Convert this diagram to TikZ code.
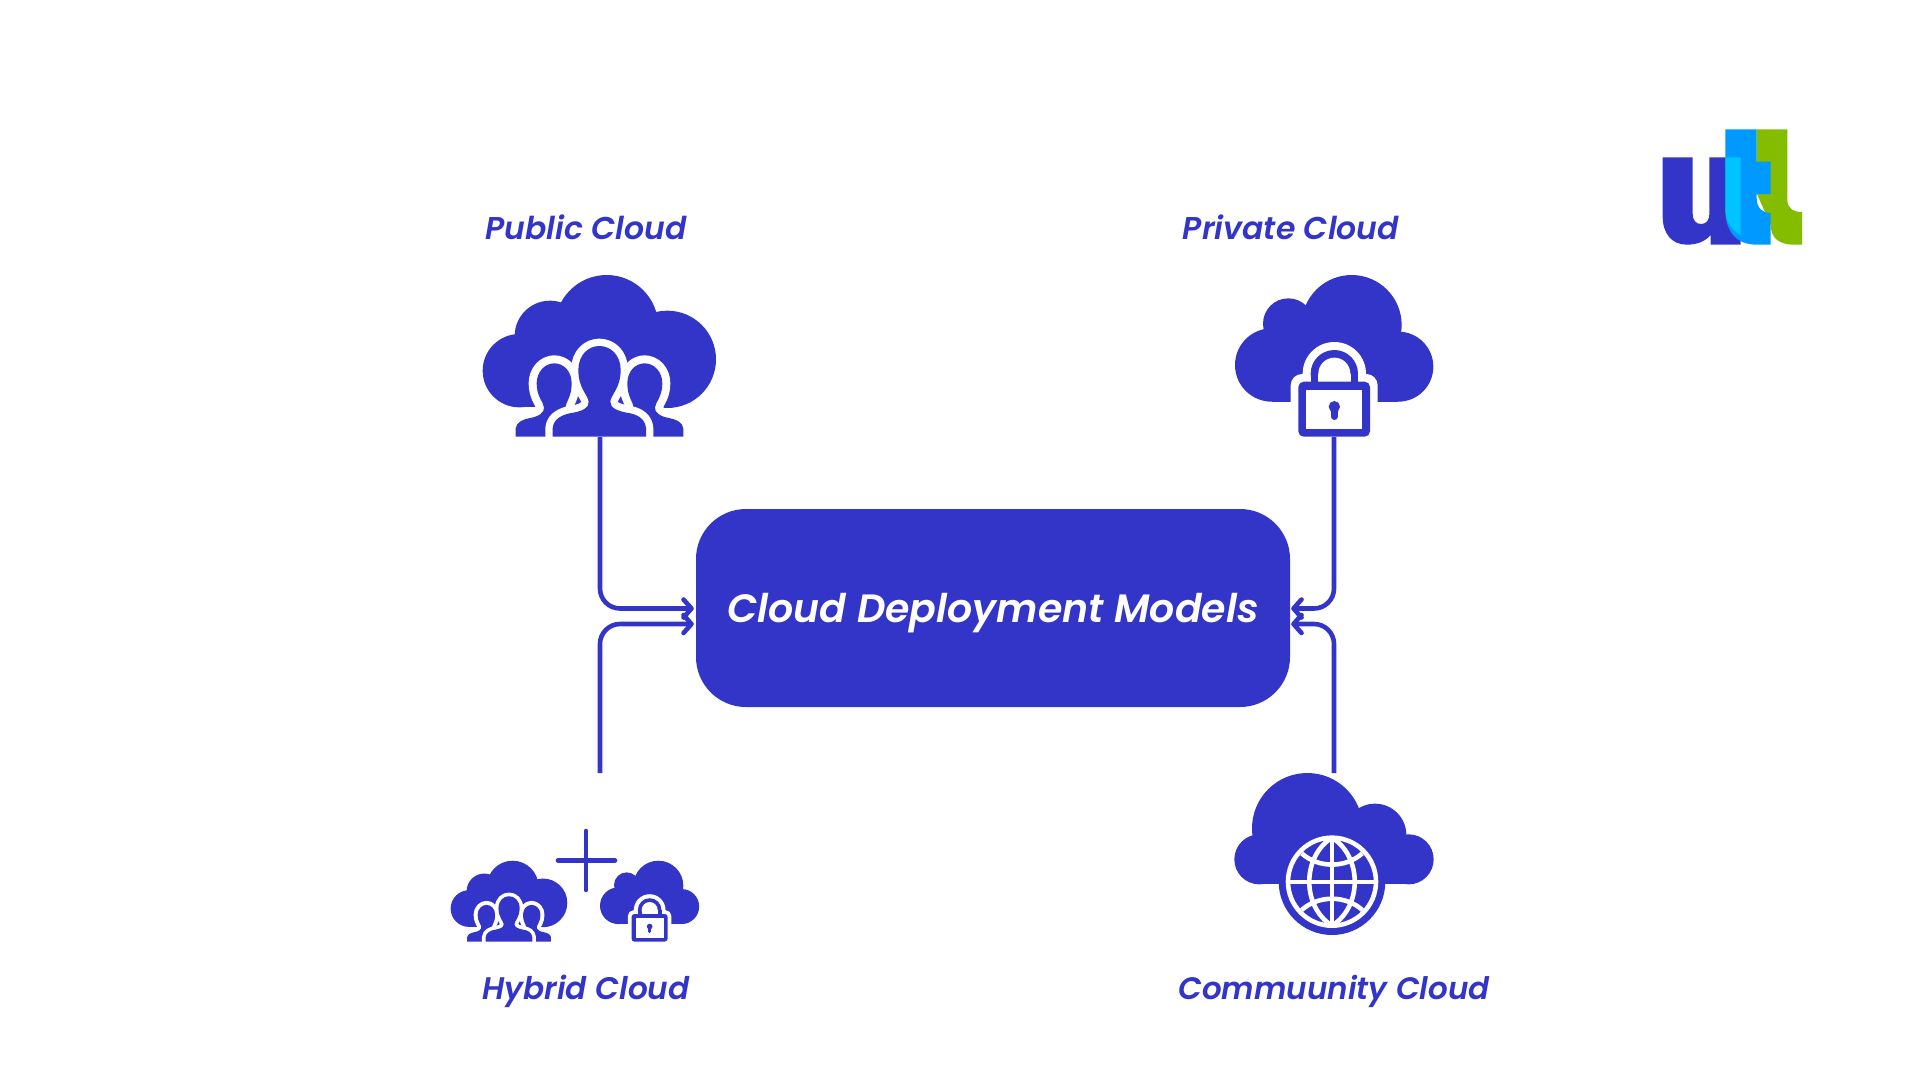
\documentclass[tikz,border=0pt]{standalone}
\usepackage{fontspec}
\setmainfont{Poppins}[BoldFont={Poppins SemiBold},BoldItalicFont={Poppins SemiBold Italic}]
\usetikzlibrary{arrows.meta}
\definecolor{brand}{HTML}{3335C9}
\definecolor{logoblue}{HTML}{0099FF}
\definecolor{logocyan}{HTML}{00C4FF}
\definecolor{logogreen}{HTML}{84BC00}
\tikzset{
  caption/.style={text=brand,font=\fontsize{#1}{#1}\selectfont\bfseries\itshape,inner sep=0pt,anchor=center},
  conn/.style={draw=brand,line width=4.6pt,rounded corners=20pt,-{Straight Barb[length=8pt,width=18pt,line cap=round,round]}},
}
\newcommand\cloudpeople[3]{%
\begin{scope}[shift={(#1,#2)},x=#3pt,y=-#3pt]
  \fill[brand] (178,332) circle[radius=110];
  \fill[brand] (270,228) circle[radius=106];
  \fill[brand] (440,200) circle[radius=155];
  \fill[brand] (622,298) circle[radius=146];
  \fill[brand] (178,250) rectangle (622,442);
  \begin{scope}
    \def\sidep{(167,530) -- (167,505) .. controls (170,485) and (190,478) .. (210,474) .. controls (235,470) and (254,458) .. (252,442) .. controls (250,425) and (230,410) .. (230,370) .. controls (230,335) and (255,310) .. (283,310) .. controls (312,310) and (335,335) .. (335,370) .. controls (335,410) and (318,425) .. (316,442) -- (340,470) -- (340,530) -- cycle}
    \def\sideq{(670,530) -- (670,505) .. controls (667,485) and (647,478) .. (627,474) .. controls (602,470) and (583,458) .. (585,442) .. controls (587,425) and (607,410) .. (607,370) .. controls (607,335) and (582,310) .. (554,310) .. controls (525,310) and (502,335) .. (502,370) .. controls (502,410) and (519,425) .. (521,442) -- (497,470) -- (497,530) -- cycle}
    \def\midp{(278,530) -- (278,505) .. controls (280,475) and (310,462) .. (340,458) .. controls (365,453) and (388,445) .. (386,425) .. controls (384,405) and (355,385) .. (355,330) .. controls (355,285) and (385,258) .. (418,258) .. controls (452,258) and (482,285) .. (482,330) .. controls (482,385) and (452,405) .. (451,425) .. controls (450,445) and (475,453) .. (500,458) .. controls (530,462) and (556,475) .. (558,505) -- (558,530) -- cycle}
    \path[draw=white,line width=48*#3 pt,line join=round] \sidep;
    \path[draw=white,line width=48*#3 pt,line join=round] \sideq;
    \fill[white] (100,531) rectangle (740,560);
    \fill[brand] \sidep;
    \fill[brand] \sideq;
    \path[draw=white,line width=44*#3 pt,line join=round] \midp;
    \fill[brand] \midp;
  \end{scope}
\end{scope}}
\newcommand\cloudlock[3]{%
\begin{scope}[shift={(#1,#2)},x=#3pt,y=-#3pt]
  \fill[brand] (155,315) circle[radius=110];
  \fill[brand] (205,191) circle[radius=76];
  \fill[brand] (395,195) circle[radius=150];
  \fill[brand] (535,320) circle[radius=105];
  \fill[brand] (155,250) rectangle (535,425);
  \fill[white] (343,341) circle[radius=95];
  \fill[white,rounded corners=34*#3 pt] (212,342) rectangle (473,540);
  \fill[brand] (343,341) circle[radius=71];
  \fill[brand] (272,341) rectangle (414,375);
  \fill[white] (343,341) circle[radius=48];
  \fill[white] (295,341) rectangle (392,375);
  \fill[brand,rounded corners=16*#3 pt] (235,365) rectangle (450,530);
  \fill[white] (259,389) rectangle (427,508);
  \fill[brand] (343,440) circle[radius=17];
  \draw[brand,line width=20*#3 pt,line cap=round] (343,445) -- (343,470);
\end{scope}}
\begin{document}
\begin{tikzpicture}[x=1pt,y=-1pt]
\useasboundingbox (0,0) rectangle (1920,1080);
\fill[white] (0,0) rectangle (1920,1080);

% icons
\cloudpeople{460}{260}{0.33333}
\cloudlock{1220}{260}{0.33333}
\cloudpeople{439.3}{853.2}{0.16667}
\cloudlock{592.5}{853.2}{0.16667}

% globe cloud
\begin{scope}[shift={(1220,760)},x=0.33333pt,y=-0.33333pt]
  \fill[brand] (118,298) circle[radius=75];
  \fill[brand] (262,205) circle[radius=166];
  \fill[brand] (465,225) circle[radius=94];
  \fill[brand] (566,298) circle[radius=75];
  \fill[brand] (118,240) rectangle (566,373);
  \fill[brand] (336,365) circle[radius=160];
  \begin{scope}[draw=white,line width=4.6pt]
    \draw (336,365) circle[radius=132];
    \draw (336,233) -- (336,497);
    \draw (204,366) -- (468,366);
    \draw (336,233) .. controls (245,290) and (245,440) .. (336,497);
    \draw (336,233) .. controls (427,290) and (427,440) .. (336,497);
    \draw (245,280) .. controls (295,325) and (377,325) .. (427,280);
    \draw (245,450) .. controls (295,405) and (377,405) .. (427,450);
  \end{scope}
\end{scope}

% plus
\draw[brand,line width=4.6pt,line cap=round] (586,831) -- (586,890);
\draw[brand,line width=4.6pt,line cap=round] (558,860.3) -- (615,860.3);

% logo
\begin{scope}[shift={(1640,110)},x=0.33333pt,y=-0.33333pt]
  \fill[brand] (68,142) -- (158,142) -- (158,310) .. controls (158,332) and (168,342) .. (183,342) .. controls (198,342) and (208,332) .. (208,310) -- (208,142) -- (302,142) -- (302,404) -- (212,404) -- (212,375) .. controls (195,395) and (170,404) .. (140,404) .. controls (95,404) and (68,370) .. (68,320) -- cycle;
  \fill[logogreen] (350,58) -- (442,58) -- (442,270) .. controls (442,295) and (460,306) .. (486,306) -- (486,404) -- (460,404) .. controls (420,404) and (392,385) .. (392,345) -- (350,250) -- cycle;
  \fill[logoblue] (256,58) -- (350,58) -- (350,155) -- (392,155) -- (392,252) -- (350,252) -- (350,265) .. controls (350,295) and (370,310) .. (392,310) -- (392,404) -- (350,404) .. controls (290,404) and (256,365) .. (256,300) -- cycle;
  \fill[logocyan] (256,142) -- (302,142) -- (302,375) .. controls (275,360) and (256,335) .. (256,300) -- cycle;
\end{scope}

% central node
\node[fill=brand,rounded corners=50pt,minimum width=594pt,minimum height=198pt,inner sep=0pt] (core) at (993,608) {};
\node[text=white,font=\fontsize{39.5}{39.5}\selectfont\bfseries\itshape,inner sep=0pt] (coretxt) at (993,613) {Cloud Deployment Models};

% connector ends
\coordinate (pubicon) at (600,437);
\coordinate (privicon) at (1334,437);
\coordinate (hybicon) at (600,773);
\coordinate (comicon) at (1334,773);
\coordinate (wa) at ([shift={(-2,0.5)}]core.west);
\coordinate (wb) at ([shift={(-2,16)}]core.west);
\coordinate (ea) at ([shift={(1,0.5)}]core.east);
\coordinate (eb) at ([shift={(1,16)}]core.east);
\draw[conn] (pubicon) |- (wa);
\draw[conn] (hybicon) |- (wb);
\draw[conn] (privicon) |- (ea);
\draw[conn] (comicon) |- (eb);

% captions
\node[caption=31.5] (publbl) at (586,227) {Public Cloud};
\node[caption=31.5] (privlbl) at (1291,227) {Private Cloud};
\node[caption=31.2] (hyblbl) at (586,991) {Hybrid Cloud};
\node[caption=31] (comlbl) at (1334,991) {Commuunity Cloud};
\end{tikzpicture}
\end{document}
